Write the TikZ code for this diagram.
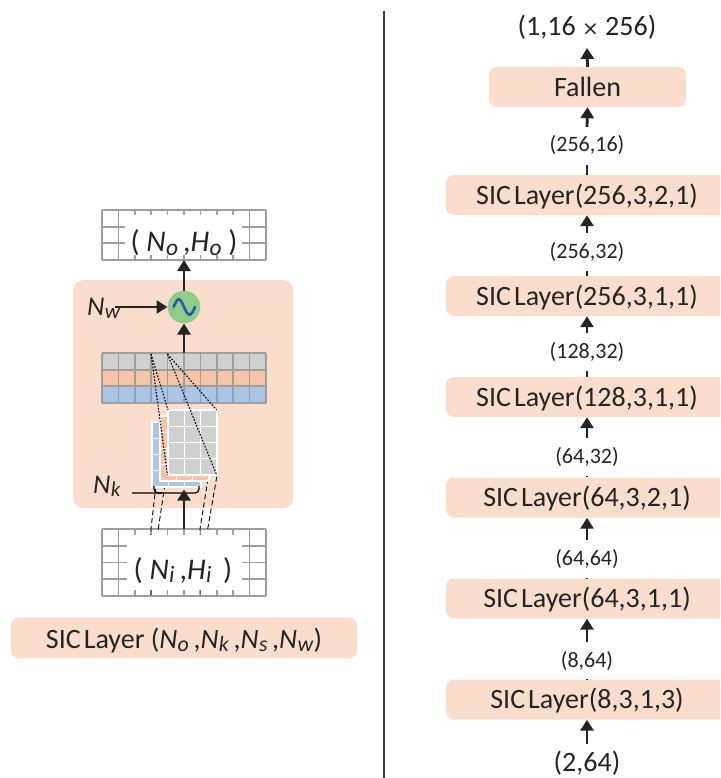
\documentclass[tikz,border=0pt]{standalone}
\usepackage{fontspec}
\usepackage{graphicx}
\setmainfont{Carlito}
\usetikzlibrary{arrows.meta}

\definecolor{peach}{RGB}{250,221,205}
\definecolor{gridgray}{RGB}{158,158,158}
\definecolor{cellgray}{RGB}{208,208,208}
\definecolor{cellorange}{RGB}{246,196,167}
\definecolor{cellblue}{RGB}{170,198,228}
\definecolor{wavegreen}{RGB}{143,203,137}
\definecolor{waveblue}{RGB}{44,88,168}
\definecolor{ink}{RGB}{36,36,36}

% italic symbol with a slightly lowered italic subscript
\newcommand{\Nsb}[2]{\textit{#1}\kern0.3pt\raisebox{-0.12em}{\scalebox{0.78}{\textit{#2}}}}

% one kernel slice: x, y (top-left), fill colour, node name
\newcommand{\kernlayer}[4]{%
  \node[fill=#3, draw=white, line width=1.4pt, minimum width=49pt, minimum height=65pt,
        anchor=north west, inner sep=0pt, outer sep=0pt] (#4) at (#1,#2) {};
  \foreach \i in {1,2} \draw[white, line width=1.4pt] ({#1+49/3*\i},#2) -- ({#1+49/3*\i},{#2+65});
  \foreach \j in {1,2,3} \draw[white, line width=1.4pt] (#1,{#2+65/4*\j}) -- ({#1+49},{#2+65/4*\j});
}

\tikzset{
  gl/.style={draw=gridgray, line width=1.7pt},
  frame/.style={anchor=north west, inner sep=0pt, outer sep=0pt, minimum width=164pt},
  layerbox/.style={fill=peach, rounded corners=8pt, minimum width=282pt, minimum height=40pt,
    inner sep=0pt, text height=18.5pt, text depth=0pt, font=\fontsize{28}{30}\selectfont, text=ink},
  dimlabel/.style={inner xsep=2pt, inner ysep=10pt, text height=15pt, text depth=3pt,
    font=\fontsize{22}{24}\selectfont, text=ink},
  biglabel/.style={inner xsep=2pt, inner ysep=8pt, text height=19.5pt, text depth=4pt,
    font=\fontsize{28}{30}\selectfont, text=ink},
  flow/.style={line width=2.8pt, draw=ink, -{Triangle[length=11pt,width=13pt]}},
  flowline/.style={line width=2.8pt, draw=ink},
  thin arrow/.style={line width=2.6pt, draw=ink, -{Triangle[length=11pt,width=13pt]}},
  dotline/.style={draw=black, line width=1.1pt, dash pattern=on 1.6pt off 1.6pt},
  dashline/.style={draw=black, line width=0.9pt, dash pattern=on 5pt off 3pt},
  symlabel/.style={font=\fontsize{27}{29}\selectfont, text=ink, inner sep=0pt},
  shapelabel/.style={font=\fontsize{30}{32}\selectfont, text=ink, inner sep=0pt, anchor=base},
}

\begin{document}
\begin{tikzpicture}[x=1pt, y=-1pt]
\useasboundingbox (0,0) rectangle (720,778);
\clip (0,0) rectangle (720,778);
\fill[white] (0,0) rectangle (720,778);

% ---------------- left: one SIC layer ----------------
\node[fill=peach, rounded corners=10pt, minimum width=220pt, minimum height=228pt,
      anchor=north west, inner sep=0pt] (cell) at (73,280) {};

% output feature map
\node[frame, minimum height=50pt] (og) at (102,210) {};
\foreach \i in {0,...,10} \draw[gl] ({102+16.4*\i},210) -- ({102+16.4*\i},260);
\foreach \j in {0,...,3} \draw[gl] (102,{210+50/3*\j}) -- (266,{210+50/3*\j});
\node[fill=white, minimum width=117pt, minimum height=40pt, inner sep=0pt] (ogbg) at (183.5,235) {};
\node[shapelabel] (ogtxt) at (184,251.7) {( \Nsb{N}{o}\,,\Nsb{H}{o} )};

% input feature map
\node[frame, minimum height=66.7pt] (ig) at (102,529) {};
\foreach \i in {0,...,10} \draw[gl] ({102+16.4*\i},529) -- ({102+16.4*\i},595.7);
\foreach \j in {0,...,4} \draw[gl] (102,{529+66.7/4*\j}) -- (266,{529+66.7/4*\j});

% dashed projections from the input into the kernel
\draw[dashline] (151,595) -- (151,529) -- (155.5,489);
\draw[dashline] (158.3,529) -- (166,477);
\draw[dashline] (200,595) -- (200,529) -- (208.3,477);
\draw[dashline] (207.7,529) -- (216.7,477);

\node[fill=white, minimum width=115pt, minimum height=55pt, inner sep=0pt] (igbg) at (184.5,562.5) {};
\node[shapelabel] (igtxt) at (183,579.3) {( \Nsb{N}{i}\,,\Nsb{H}{i} \,)};

% intermediate channels
\node[frame, minimum height=50pt] (fg) at (102,353) {};
\fill[cellgray]   (102,353) rectangle (266,369.67);
\fill[cellorange] (102,369.67) rectangle (266,386.33);
\fill[cellblue]   (102,386.33) rectangle (266,403);
\foreach \i in {0,...,10} \draw[gl] ({102+16.4*\i},353) -- ({102+16.4*\i},403);
\foreach \j in {0,...,3} \draw[gl] (102,{353+50/3*\j}) -- (266,{353+50/3*\j});

% kernel stack
\kernlayer{152}{422}{cellblue}{kb}
\kernlayer{160}{416}{cellorange}{ko}
\kernlayer{168}{410}{cellgray}{kg}

% dotted receptive field lines
\draw[dotline] (151,354) -- (168,410);
\draw[dotline] (151,354) -- (167.5,475);
\draw[dotline] (167.4,354) -- (216.7,410);
\draw[dotline] (167.4,354) -- (216.7,475);

% kernel size bracket
\draw[black, line width=1.2pt, rounded corners=4pt] (132,493) -- (199,493) -- (199,486);
\draw[black, line width=1.2pt, rounded corners=4pt] (154,486) -- (154,493) -- (162,493);
\node[symlabel, anchor=base west] (nk) at (93,493.3) {\Nsb{N}{k}};

% activation
\node[circle, fill=wavegreen, minimum size=32.6pt, inner sep=0pt] (sig) at (184,307) {};
\draw[waveblue, line width=2.6pt, line cap=round]
  (173.6,307) sin (178.8,299.3) cos (184,307) sin (189.6,314.7) cos (195,307);
\node[symlabel, anchor=base west] (nw) at (87,315) {\Nsb{N}{w}};
\coordinate (nwtail) at (115,307);

% arrows through the layer
\coordinate (ktip) at (184,489.5);
\draw[thin arrow] (ig.north -| ktip) -- (ktip);
\draw[thin arrow] (fg.north) -- (sig.south);
\draw[thin arrow] (sig.north) -- (og.south);
\draw[thin arrow] (nwtail) -- (sig.west);

% layer signature
\node[fill=peach, rounded corners=8pt, minimum width=346pt, minimum height=41pt, inner sep=0pt,
      text height=21pt, text depth=0pt, font=\fontsize{28}{30}\selectfont, text=ink] (legend)
  at (184,637.8) {SIC\kern3pt Layer (\Nsb{N}{o}\,,\Nsb{N}{k}\,,\Nsb{N}{s}\,,\Nsb{N}{w})};

% divider
\draw[draw={rgb,255:red,64;green,64;blue,64}, line width=2pt] (384,11) -- (384,778);

% ---------------- right: full network ----------------
\node[layerbox, minimum width=197pt] (fallen) at (587.5,87) {Fallen};
\node[layerbox] (b1) at (587,195) {SIC\kern3pt Layer(256,3,2,1)};
\node[layerbox] (b2) at (587,296) {SIC\kern3pt Layer(256,3,1,1)};
\node[layerbox] (b3) at (587,397) {SIC\kern3pt Layer(128,3,1,1)};
\node[layerbox] (b4) at (587,497.5) {SIC\kern3pt Layer(64,3,2,1)};
\node[layerbox] (b5) at (587,598.5) {SIC\kern3pt Layer(64,3,1,1)};
\node[layerbox] (b6) at (587,699.5) {SIC\kern3pt Layer(8,3,1,3)};

\node[biglabel] (l0) at (587,28) {(1,16 {\fontspec{DejaVu Sans}\fontsize{20}{22}\selectfont ×} 256)};
\node[dimlabel] (l1) at (587,146) {(256,16)};
\node[dimlabel] (l2) at (587,252) {(256,32)};
\node[dimlabel] (l3) at (587,352) {(128,32)};
\node[dimlabel] (l4) at (587,457) {(64,32)};
\node[dimlabel] (l5) at (587,559) {(64,64)};
\node[dimlabel] (l6) at (587,661) {(8,64)};
\node[biglabel] (l7) at (587,764) {(2,64)};

\draw[flow] (fallen.north) -- (l0.south);
\draw[flowline] (b1.north) -- (l1.south);
\draw[flow] (l1.north) -- (fallen.south);
\draw[flowline] (b2.north) -- (l2.south);
\draw[flow] (l2.north) -- (b1.south);
\draw[flowline] (b3.north) -- (l3.south);
\draw[flow] (l3.north) -- (b2.south);
\draw[flowline] (b4.north) -- (l4.south);
\draw[flow] (l4.north) -- (b3.south);
\draw[flowline] (b5.north) -- (l5.south);
\draw[flow] (l5.north) -- (b4.south);
\draw[flowline] (b6.north) -- (l6.south);
\draw[flow] (l6.north) -- (b5.south);
\draw[flow] (l7.north) -- (b6.south);
\end{tikzpicture}
\end{document}
